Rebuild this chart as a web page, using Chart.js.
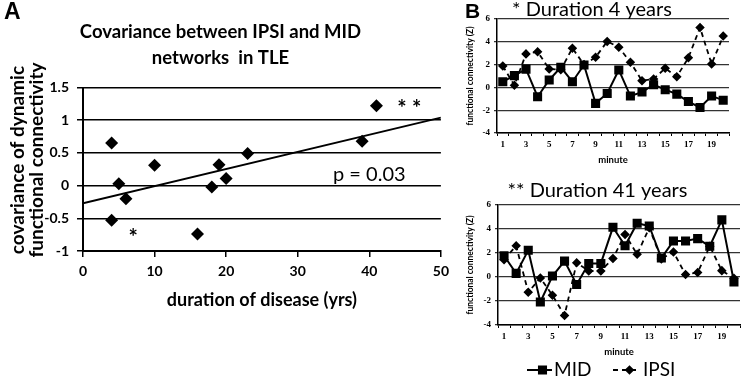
<!DOCTYPE html>
<html lang="en">
<head>
<meta charset="UTF-8">
<title>Covariance between IPSI and MID networks</title>
<script src="https://cdn.jsdelivr.net/npm/chart.js@4.4.0/dist/chart.umd.min.js"></script>
<style>
    body { margin: 0; background: #fff; }
    #wrap { position: relative; width: 750px; height: 380px; background: #fff; overflow: hidden; }
    canvas { position: absolute; }
    .panel { position: absolute; font-family: Arial, "Liberation Sans", sans-serif; font-weight: bold; color: #000; z-index: 5; }
</style>
</head>
<body>
<div id="wrap">
    <canvas id="covChart" width="455" height="320" style="left:0;top:0"></canvas>
    <canvas id="shortChart" width="295" height="170" style="left:455px;top:0"></canvas>
    <canvas id="longChart" width="295" height="200" style="left:455px;top:180px"></canvas>
    <div class="panel" style="left:4px;top:-2px;font-size:23px">A</div>
    <div class="panel" style="left:465px;top:-1px;font-size:21px">B</div>
</div>

<script>
    // panel A: one point per patient
    const durationYrs = [4, 5, 6, 4, 10, 16, 18, 19, 20, 23, 39, 41]
    const covariance = [0.65, 0.03, -0.2, -0.53, 0.31, -0.74, -0.02, 0.32, 0.11, 0.49, 0.68, 1.22]
    const trendX = [0, 50]
    const trendY = [-0.27, 1.04]

    // panel B: functional connectivity per minute
    const minutes = ['1','2','3','4','5','6','7','8','9','10','11','12','13','14','15','16','17','18','19','20']
    const midShort = [0.5, 1.03, 1.6, -0.82, 0.65, 1.76, 0.5, 1.97, -1.4, -0.53, 1.53, -0.76, -0.41, 0.24, -0.2, -0.59, -1.24, -1.76, -0.76, -1.12]
    const ipsiShort = [1.88, 0.18, 2.94, 3.12, 1.62, 1.55, 3.44, 2.0, 2.65, 4.03, 3.53, 2.2, 0.59, 0.74, 1.68, 0.94, 2.6, 5.25, 2.05, 4.5]
    const midLong = [1.77, 0.3, 2.23, -2.08, 0.08, 1.32, -0.62, 1.13, 1.13, 4.14, 2.6, 4.48, 4.25, 1.58, 3.0, 3.0, 3.2, 2.56, 4.76, -0.42]
    const ipsiLong = [1.44, 2.6, -1.27, -0.08, -1.52, -3.2, 1.18, 0.5, 0.5, 1.55, 3.55, 1.89, 4.1, 1.5, 2.08, 0.2, 0.37, 2.56, 0.53, -0.1]

    Chart.defaults.font.family = 'Lato'
    Chart.defaults.color = '#000'
    Chart.defaults.animation = false

    // text notes on panel A, placed in data units
    const notesPlugin = {
        id: 'notes',
        afterDatasetsDraw(chart) {
            const {ctx, scales: {x, y}} = chart
            const notes = [
                {x: 7, y: -0.8, text: '*', font: 'bold 22px Lato'},
                {x: 45.6, y: 1.17, text: '* *', font: 'bold 22px Lato'},
                {x: 40, y: 0.17, text: 'p = 0.03', font: '20px Lato'}
            ]
            ctx.save()
            ctx.fillStyle = '#000'
            ctx.textAlign = 'center'
            ctx.textBaseline = 'middle'
            for (const n of notes) {
                ctx.font = n.font
                ctx.fillText(n.text, x.getPixelForValue(n.x), y.getPixelForValue(n.y))
            }
            ctx.restore()
        }
    }

    new Chart(document.getElementById('covChart'), {
        type: 'scatter',
        data: {
            datasets: [{
                data: durationYrs.map((d, i) => ({x: d, y: covariance[i]})),
                pointStyle: 'rectRot',
                pointRadius: 6.5,
                backgroundColor: '#000',
                borderColor: '#000',
                borderWidth: 0
            }, {
                type: 'line',
                data: trendX.map((d, i) => ({x: d, y: trendY[i]})),
                borderColor: '#000',
                borderWidth: 2,
                pointRadius: 0
            }]
        },
        options: {
            responsive: false,
            layout: {padding: {left: 0, right: 14, top: 0, bottom: 0}},
            plugins: {
                legend: {display: false},
                tooltip: {enabled: false},
                title: {
                    display: true,
                    text: ['Covariance between IPSI and MID', 'networks  in TLE'],
                    font: {size: 18.5, weight: 'bold', lineHeight: 1.42},
                    color: '#000',
                    padding: {top: 19, bottom: 16}
                }
            },
            scales: {
                x: {
                    type: 'linear', min: 0, max: 50,
                    ticks: {stepSize: 10, font: {size: 14, weight: 'bold'}, padding: 6},
                    grid: {drawOnChartArea: false, color: '#000', lineWidth: 1.5, tickLength: 6},
                    border: {color: '#000', width: 2},
                    title: {display: true, text: 'duration of disease (yrs)', font: {size: 18, weight: 'bold'}, padding: {top: 0, bottom: 9}},
                    afterFit(s) { s.height = 69 }
                },
                y: {
                    min: -1, max: 1.5,
                    ticks: {stepSize: 0.5, font: {size: 14, weight: 'bold'}, padding: 8, callback: v => String(v)},
                    grid: {color: '#000', lineWidth: 1.5, tickLength: 6},
                    border: {color: '#000', width: 2},
                    title: {display: true, text: ['    covariance of dynamic', '    functional connectivity'], font: {size: 19, weight: 'bold', lineHeight: 1.0}, padding: {top: 8, bottom: 0}},
                    afterFit(s) { s.width = 83 }
                }
            }
        },
        plugins: [notesPlugin]
    })

    // legend with line + marker, drawn under panel B bottom chart
    const lineLegend = {
        id: 'lineLegend',
        afterDraw(chart) {
            const ctx = chart.ctx
            const cy = chart.height - 10
            const items = [{x0: 72, x1: 97, tx: 99}, {x0: 158, x1: 185, tx: 188}]
            ctx.save()
            chart.data.datasets.forEach((ds, i) => {
                const it = items[i]
                ctx.strokeStyle = '#000'
                ctx.lineWidth = ds.borderWidth
                ctx.setLineDash(ds.borderDash || [])
                ctx.beginPath()
                ctx.moveTo(it.x0, cy)
                ctx.lineTo(it.x1, cy)
                ctx.stroke()
                ctx.setLineDash([])
                Chart.helpers.drawPoint(ctx, {pointStyle: ds.pointStyle, radius: ds.pointRadius, borderWidth: 1}, (it.x0 + it.x1) / 2 + 3, cy)
                ctx.fillStyle = '#000'
                ctx.fill()
                ctx.font = '19px Lato'
                ctx.textAlign = 'left'
                ctx.textBaseline = 'middle'
                ctx.fillText(ds.label, it.tx, cy)
            })
            ctx.restore()
        }
    }

    function minuteChart(id, titleText, mid, ipsi, cfg) {
        return new Chart(document.getElementById(id), {
            type: 'line',
            data: {
                labels: minutes,
                datasets: [{
                    label: 'MID',
                    data: mid,
                    borderColor: '#000',
                    borderWidth: 2,
                    pointStyle: 'rect',
                    pointRadius: 5,
                    pointBackgroundColor: '#000',
                    pointBorderColor: '#000',
                    tension: 0
                }, {
                    label: 'IPSI',
                    data: ipsi,
                    borderColor: '#000',
                    borderWidth: 1.8,
                    borderDash: [5, 4],
                    pointStyle: 'rectRot',
                    pointRadius: 3.5,
                    pointBackgroundColor: '#000',
                    pointBorderColor: '#000',
                    tension: 0
                }]
            },
            options: {
                responsive: false,
                layout: {padding: cfg.padding},
                plugins: {
                    legend: {display: false},
                    tooltip: {enabled: false},
                    title: {
                        display: true,
                        text: titleText,
                        font: {size: 20, weight: 'normal', lineHeight: 1},
                        color: '#000',
                        padding: cfg.titlePad
                    }
                },
                scales: {
                    x: {
                        offset: true,
                        ticks: {
                            autoSkip: false, maxRotation: 0, padding: 3,
                            font: {family: 'Liberation Serif', size: 9, weight: 'bold'},
                            callback: (v, i) => i % 2 === 0 ? minutes[i] : ''
                        },
                        grid: {drawOnChartArea: false, offset: true, color: '#000', tickLength: 3},
                        border: {color: '#000', width: 1.5},
                        title: {display: true, text: 'minute', font: {size: 9.5, weight: 'bold'}, padding: {top: 0, bottom: cfg.minutePad}},
                        afterFit(s) { s.height = cfg.xHeight }
                    },
                    y: {
                        min: -4, max: 6,
                        ticks: {stepSize: 2, padding: 4, font: {family: 'Liberation Serif', size: 9, weight: 'bold'}},
                        grid: {color: '#333', lineWidth: 1.2, tickLength: 3},
                        border: {color: '#000', width: 1.5},
                        title: {display: true, text: 'functional connectivity (Z)', font: {size: 8.5, weight: 'bold'}, padding: {top: 10, bottom: 0}},
                        afterFit(s) { s.width = cfg.yWidth }
                    }
                }
            },
            plugins: cfg.plugins
        })
    }

    minuteChart('shortChart', '* Duration 4 years', midShort, ipsiShort, {
        padding: {left: 0, right: 21, top: 0, bottom: 0},
        titlePad: {top: 0, bottom: -1},
        xHeight: 37, yWidth: 42, minutePad: 4, plugins: []
    })

    minuteChart('longChart', '** Duration 41 years', midLong, ipsiLong, {
        padding: {left: 0, right: 10, top: 0, bottom: 20},
        titlePad: {top: 1, bottom: 4},
        xHeight: 35, yWidth: 43, minutePad: 2, plugins: [lineLegend]
    })
</script>
</body>
</html>
